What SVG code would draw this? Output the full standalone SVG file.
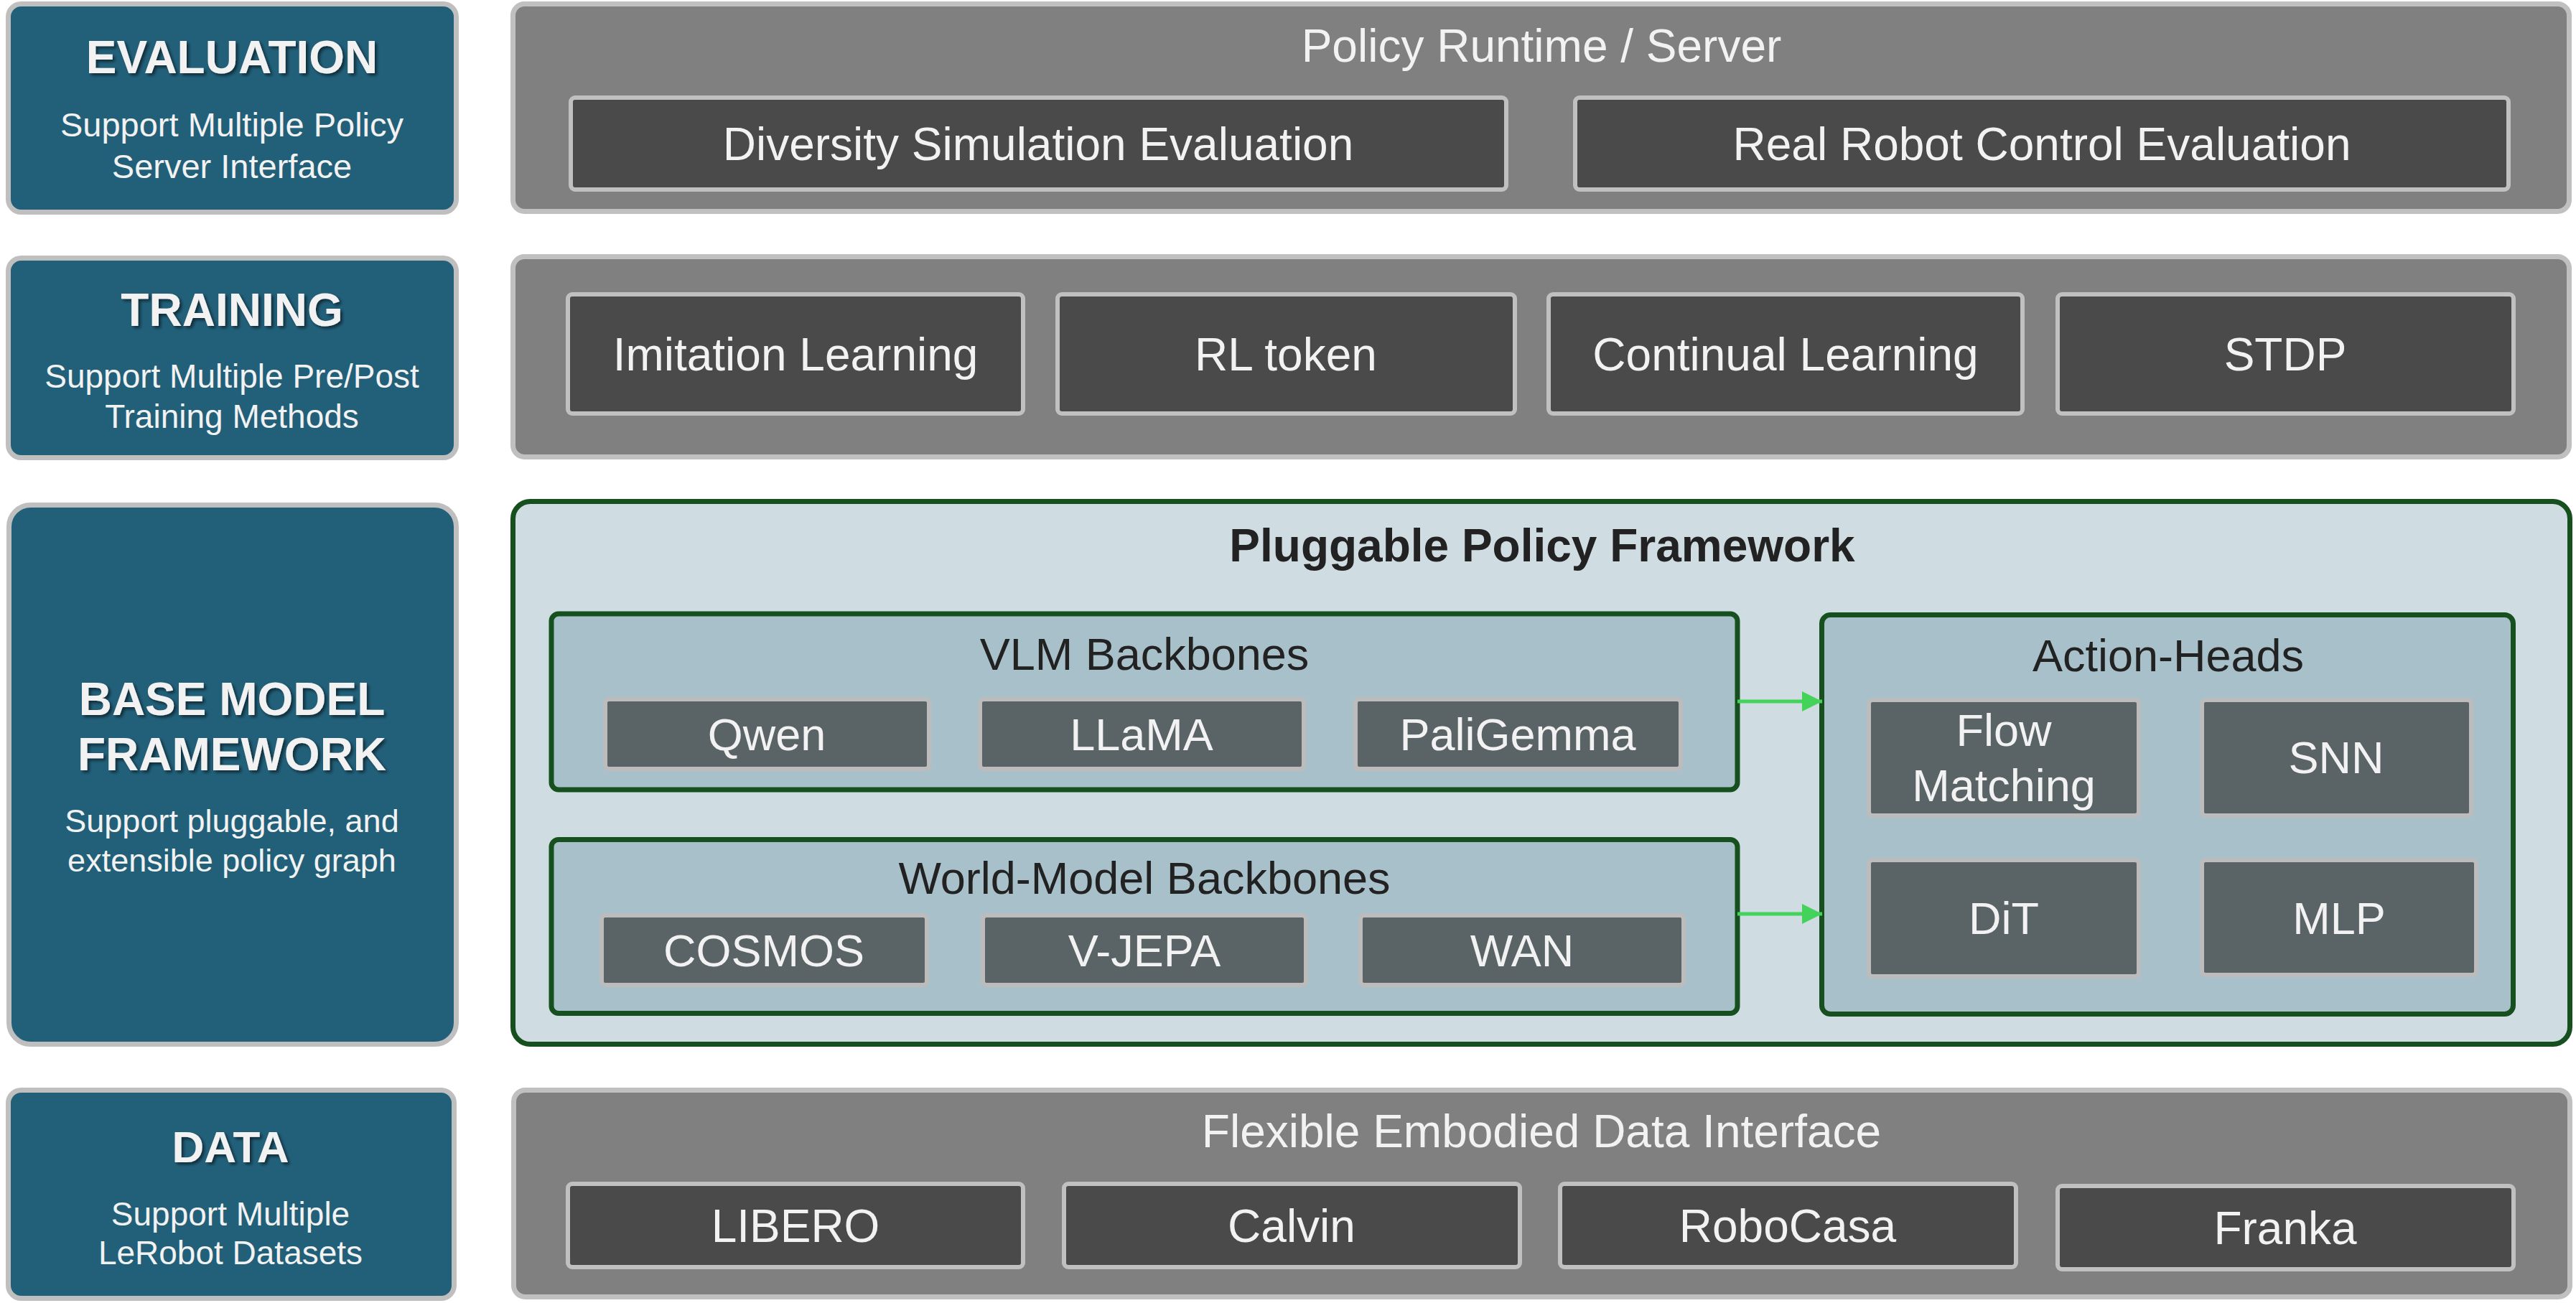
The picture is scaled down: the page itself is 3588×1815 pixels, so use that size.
<svg xmlns="http://www.w3.org/2000/svg" width="3588" height="1815" viewBox="0 0 3588 1815">
<defs>
<style>
.side{fill:#22607a;stroke:#bfbfbf;stroke-width:7}
.panel{fill:#808080;stroke:#c0c0c0;stroke-width:7}
.dbox{fill:#4a4a4a;stroke:#c0c0c0;stroke-width:6}
.gpanel{fill:#cfdce2;stroke:#16501e;stroke-width:7}
.gbox{fill:#a8c0c9;stroke:#16501e;stroke-width:7}
.cbox{fill:#5a6366;stroke:#bcbcbc;stroke-width:6}
text{font-family:"Liberation Sans",Arial,sans-serif;text-anchor:middle}
.title{font-size:64px;font-weight:bold;fill:#f2f2f2}
.sub{font-size:46px;fill:#f2f2f2}
.lbl{font-size:64px;fill:#f2f2f2}
.clbl{font-size:63px;fill:#f2f2f2}
.dark{font-size:63px;fill:#222222}
.bold{font-size:64px;font-weight:bold;fill:#222222}
.conn{stroke:#43d35a;stroke-width:5;fill:none}
</style>
<filter id="sh" x="-10%" y="-30%" width="120%" height="160%">
<feDropShadow dx="3" dy="3" stdDeviation="2" flood-color="#000000" flood-opacity="0.55"/>
</filter>
<marker id="arr" markerWidth="28" markerHeight="28" viewBox="0 0 28 28" refX="28" refY="14" markerUnits="userSpaceOnUse" orient="auto">
<polygon points="0,0 28,14 0,28" fill="#43d35a"/>
</marker>
</defs>
<rect width="3588" height="1815" fill="#ffffff"/>

<g id="evaluation">
<rect class="side" x="11.5" y="5.5" width="624" height="290" rx="18"/>
<text class="title" x="323" y="102" filter="url(#sh)">EVALUATION</text>
<text class="sub" x="323" y="190" style="font-size:47px">Support Multiple Policy</text>
<text class="sub" x="323" y="248" style="font-size:47px">Server Interface</text>
</g>
<g id="training">
<rect class="side" x="11.5" y="359.5" width="624" height="278" rx="18"/>
<text class="title" x="323" y="454" filter="url(#sh)">TRAINING</text>
<text class="sub" x="323" y="540">Support Multiple Pre/Post</text>
<text class="sub" x="323" y="596">Training Methods</text>
</g>
<g id="base-model">
<rect class="side" x="12.5" y="703.5" width="623" height="751" rx="30"/>
<text class="title" x="323" y="996" filter="url(#sh)">BASE MODEL</text>
<text class="title" x="323" y="1073" filter="url(#sh)">FRAMEWORK</text>
<text class="sub" x="323" y="1159" style="font-size:45px">Support pluggable, and</text>
<text class="sub" x="323" y="1214" style="font-size:45px">extensible policy graph</text>
</g>
<g id="data">
<rect class="side" x="11.5" y="1518.5" width="621" height="290" rx="18"/>
<text class="title" x="321" y="1619" filter="url(#sh)" style="font-size:62px">DATA</text>
<text class="sub" x="321" y="1707">Support Multiple</text>
<text class="sub" x="321" y="1761">LeRobot Datasets</text>
</g>

<g id="policy-runtime">
<rect class="panel" x="714.5" y="5.5" width="2864" height="289" rx="16"/>
<text class="lbl" x="2147" y="86">Policy Runtime / Server</text>
</g>
<g id="diversity-sim">
<rect class="dbox" x="795" y="136" width="1303" height="128" rx="6"/>
<text class="lbl" x="1446" y="223">Diversity Simulation Evaluation</text>
</g>
<g id="real-robot">
<rect class="dbox" x="2194" y="136" width="1300" height="128" rx="6"/>
<text class="lbl" x="2844" y="223">Real Robot Control Evaluation</text>
</g>

<g id="training-panel">
<rect class="panel" x="714.5" y="357.5" width="2864" height="279" rx="16"/>
</g>
<g id="imitation">
<rect class="dbox" x="791" y="410" width="634" height="166" rx="6"/>
<text class="lbl" x="1108" y="516">Imitation Learning</text>
</g>
<g id="rl-token">
<rect class="dbox" x="1473" y="410" width="637" height="166" rx="6"/>
<text class="lbl" x="1791" y="516">RL token</text>
</g>
<g id="continual">
<rect class="dbox" x="2157" y="410" width="660" height="166" rx="6"/>
<text class="lbl" x="2487" y="516">Continual Learning</text>
</g>
<g id="stdp">
<rect class="dbox" x="2866" y="410" width="635" height="166" rx="6"/>
<text class="lbl" x="3183" y="516">STDP</text>
</g>

<g id="pluggable">
<rect class="gpanel" x="714.5" y="698.5" width="2865" height="756" rx="24"/>
<text class="bold" x="2148" y="782">Pluggable Policy Framework</text>
</g>
<g id="vlm">
<rect class="gbox" x="768" y="855" width="1652" height="245" rx="10"/>
<text class="dark" x="1594" y="933">VLM Backbones</text>
</g>
<g id="qwen">
<rect class="cbox" x="843" y="974" width="451" height="97" rx="5"/>
<text class="clbl" x="1068" y="1045">Qwen</text>
</g>
<g id="llama">
<rect class="cbox" x="1365" y="974" width="451" height="97" rx="5"/>
<text class="clbl" x="1590" y="1045">LLaMA</text>
</g>
<g id="paligemma">
<rect class="cbox" x="1888" y="974" width="453" height="97" rx="5"/>
<text class="clbl" x="2114" y="1045">PaliGemma</text>
</g>
<g id="world-model">
<rect class="gbox" x="768" y="1169.5" width="1652" height="242" rx="10"/>
<text class="dark" x="1594" y="1245">World-Model Backbones</text>
</g>
<g id="cosmos">
<rect class="cbox" x="838" y="1275" width="453" height="97" rx="5"/>
<text class="clbl" x="1064" y="1346">COSMOS</text>
</g>
<g id="vjepa">
<rect class="cbox" x="1369" y="1275" width="450" height="97" rx="5"/>
<text class="clbl" x="1594" y="1346">V-JEPA</text>
</g>
<g id="wan">
<rect class="cbox" x="1895" y="1275" width="450" height="97" rx="5"/>
<text class="clbl" x="2120" y="1346">WAN</text>
</g>
<g id="action-heads">
<rect class="gbox" x="2537.5" y="856.5" width="963" height="556" rx="12"/>
<text class="dark" x="3020" y="935">Action-Heads</text>
</g>
<g id="flow-matching">
<rect class="cbox" x="2603" y="975" width="376" height="161" rx="5"/>
<text class="clbl" x="2791" y="1039">Flow</text>
<text class="clbl" x="2791" y="1116">Matching</text>
</g>
<g id="snn">
<rect class="cbox" x="3067" y="975" width="375" height="161" rx="5"/>
<text class="clbl" x="3254" y="1077">SNN</text>
</g>
<g id="dit">
<rect class="cbox" x="2603" y="1198" width="376" height="162" rx="5"/>
<text class="clbl" x="2791" y="1301">DiT</text>
</g>
<g id="mlp">
<rect class="cbox" x="3067" y="1198" width="382" height="160" rx="5"/>
<text class="clbl" x="3258" y="1301">MLP</text>
</g>

<g id="data-panel">
<rect class="panel" x="715.5" y="1518.5" width="2864" height="288" rx="16"/>
<text class="lbl" x="2147" y="1598">Flexible Embodied Data Interface</text>
</g>
<g id="libero">
<rect class="dbox" x="791" y="1649" width="634" height="116" rx="6"/>
<text class="lbl" x="1108" y="1730">LIBERO</text>
</g>
<g id="calvin">
<rect class="dbox" x="1482" y="1649" width="635" height="116" rx="6"/>
<text class="lbl" x="1799" y="1730">Calvin</text>
</g>
<g id="robocasa">
<rect class="dbox" x="2173" y="1649" width="635" height="116" rx="6"/>
<text class="lbl" x="2490" y="1730">RoboCasa</text>
</g>
<g id="franka">
<rect class="dbox" x="2866" y="1652" width="635" height="116" rx="6"/>
<text class="lbl" x="3183" y="1733">Franka</text>
</g>

<g id="connectors">
<line class="conn" x1="2420" y1="977" x2="2538" y2="977" marker-end="url(#arr)"/>
<line class="conn" x1="2420" y1="1273" x2="2538" y2="1273" marker-end="url(#arr)"/>
</g>
</svg>
